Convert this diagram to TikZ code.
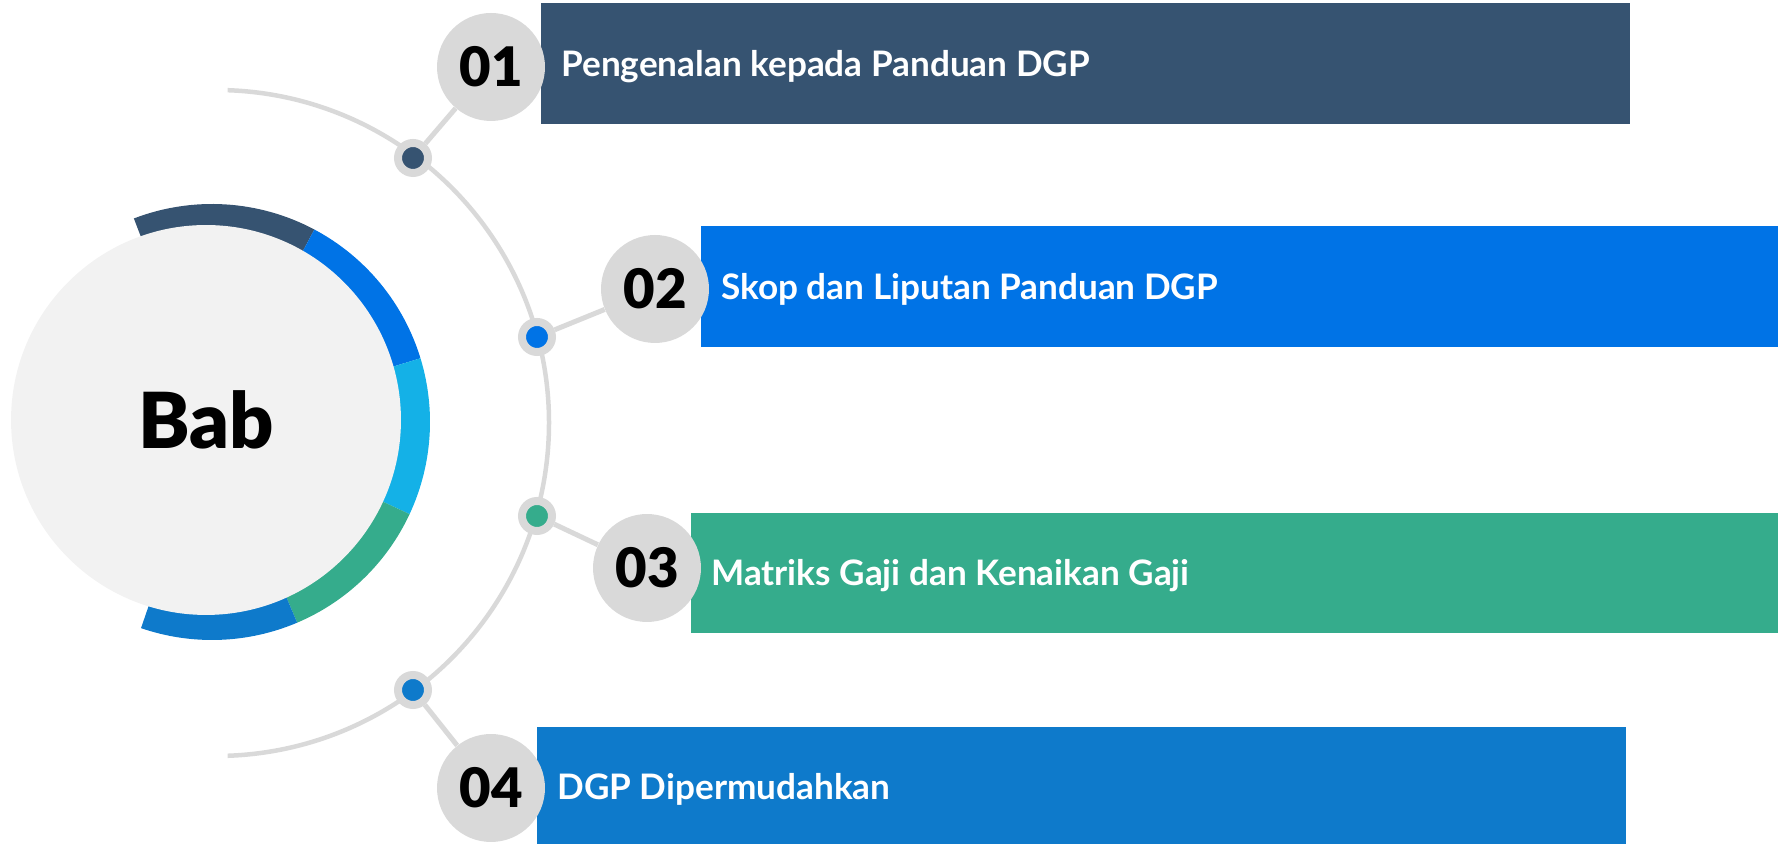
\documentclass[tikz,border=0pt]{standalone}
\usepackage{fontspec}
\setmainfont{Lato}
\newfontfamily\babheavy{Lato Black}
\usetikzlibrary{positioning, calc}
\definecolor{BabNavy}{RGB}{54,83,113}
\definecolor{BabBlue}{RGB}{0,115,230}
\definecolor{BabSky}{RGB}{20,177,231}
\definecolor{BabGreen}{RGB}{53,172,140}
\definecolor{BabMid}{RGB}{14,122,203}
\definecolor{BabGrey}{RGB}{217,217,217}
\definecolor{BabLight}{RGB}{242,242,242}

\begin{document}
\begin{tikzpicture}[x=0.02cm, y=0.02cm,
	numcirc/.style={circle, fill=BabGrey, minimum size=2.16cm, inner sep=0pt,
		font=\babheavy\fontsize{31}{31}\selectfont},
	dotc/.style={circle, fill=#1, draw=BabGrey, line width=0.16cm,
		minimum size=0.6cm, inner sep=0pt},
	bar/.style={fill=#1, minimum height=2.42cm, inner sep=0pt, anchor=west},
	bartxt/.style={text=white, font=\bfseries\fontsize{20}{20}\selectfont,
		anchor=base west, inner sep=0pt},
	link/.style={draw=BabGrey, line width=0.1cm}]
	\useasboundingbox (0,0) rectangle (1778,844);
	% ring round the centre
	\foreach \a/\b/\c in {111/62/BabNavy, 62/17/BabBlue, 17/-25/BabSky,
		-25/-67/BabGreen, -67/-109/BabMid}
		\fill[\c] (212,422) -- ++(\a:218) arc[start angle=\a, end angle=\b, radius=218] -- cycle;
	\node (bab) [circle, fill=BabLight, minimum size=7.8cm, inner sep=0pt,
		font=\babheavy\fontsize{44}{44}\selectfont] at (206,424) {Bab};
	% guide arc
	\draw[BabGrey, line width=0.09cm] (216,421) ++(88:333)
		arc[start angle=88, end angle=-88, radius=333];
	\foreach \i/\px/\py/\nx/\ny/\lft/\rgt/\cy/\col/\txt in {
		1/413/686/491/777/541/1630/780/BabNavy/{Pengenalan kepada Panduan DGP},
		2/537/507/655/555/701/1778/557/BabBlue/{Skop dan Liputan Panduan DGP},
		3/537/328/647/276/691/1778/271/BabGreen/{Matriks Gaji dan Kenaikan Gaji},
		4/413/154/491/56/537/1626/57/BabMid/{DGP Dipermudahkan}}{
		\node (b\i) [bar=\col, minimum width={(\rgt-\lft)*0.02cm}] at (\lft,\cy) {};
		\node (t\i) [bartxt] at ([xshift=0.4cm, yshift=-0.25cm]b\i.west) {\txt};
		\node (d\i) [dotc=\col] at (\px,\py) {};
		\node (n\i) [numcirc] at (\nx,\ny) {0\i};
		\draw[link] (d\i) -- (n\i);
	}
\end{tikzpicture}
\end{document}
